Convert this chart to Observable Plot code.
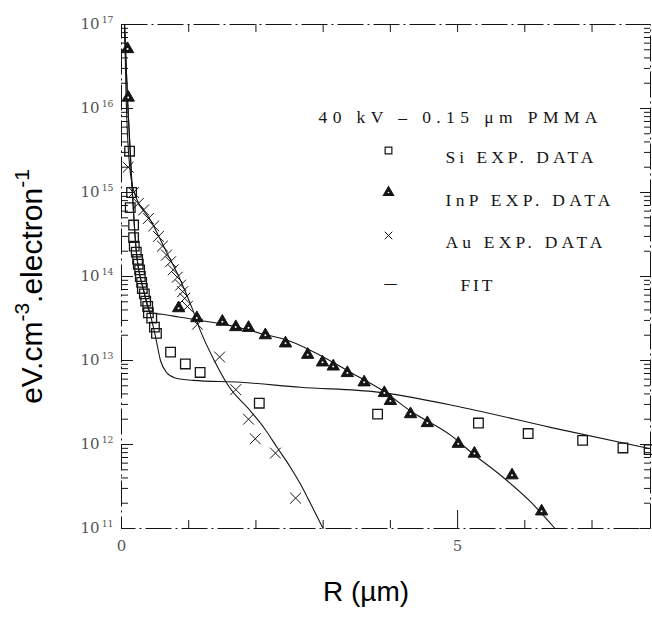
<!DOCTYPE html>
<html><head><meta charset="utf-8">
<script src="https://cdn.jsdelivr.net/npm/d3@7"></script>
<script src="https://cdn.jsdelivr.net/npm/@observablehq/plot@0.6"></script>
<style>body{margin:0;background:#fff}#chart{width:652px;height:618px}</style>
</head><body><div id="chart"></div>
<script>
// ---- Data (R in µm, energy density in eV.cm-3.electron-1) ----
const siExpR = [0.12,0.15,0.13,0.18,0.18,0.19,0.22,0.24,0.25,0.27,0.28,0.30,0.31,0.34,0.36,0.39,0.40,0.45,0.49,0.52,0.73,0.95,1.17,2.05,3.81,5.31,6.05,6.86,7.46,7.85];
const siExpE = [3.1e15,1.0e15,6.6e14,4.1e14,2.9e14,2.3e14,1.95e14,1.6e14,1.4e14,1.2e14,1.0e14,8.5e13,7.2e13,6.2e13,5.1e13,4.4e13,3.7e13,3.2e13,2.5e13,2.1e13,1.26e13,9.1e12,7.2e12,3.1e12,2.3e12,1.8e12,1.35e12,1.12e12,9.1e11,8.7e11];
const inpExpR = [0.09,0.10,0.85,1.12,1.50,1.70,1.89,2.14,2.44,2.77,2.99,3.15,3.36,3.61,3.91,4.00,4.30,4.55,5.01,5.25,5.81,6.25];
const inpExpE = [5.1e16,1.35e16,4.2e13,3.2e13,2.9e13,2.5e13,2.45e13,2.0e13,1.6e13,1.17e13,9.5e12,8.5e12,7.1e12,5.5e12,4.1e12,3.3e12,2.3e12,1.8e12,1.02e12,7.8e11,4.3e11,1.6e11];
const auExpR = [0.10,0.18,0.25,0.33,0.40,0.48,0.55,0.61,0.67,0.73,0.77,0.83,0.88,0.91,0.94,0.98,1.13,1.46,1.70,1.89,1.99,2.29,2.59];
const auExpE = [2.0e15,1.0e15,7.4e14,6.2e14,4.9e14,4.0e14,3.0e14,2.3e14,1.8e14,1.5e14,1.2e14,9.8e13,7.9e13,6.6e13,5.5e13,4.4e13,2.7e13,1.1e13,4.5e12,2.0e12,1.17e12,7.9e11,2.3e11];
const siFitR = [0.045,0.09,0.13,0.16,0.22,0.33,0.43,0.51,0.58,0.67,0.80,1.07,1.77,2.66,3.81,5.04,6.38,7.87];
const siFitE = [1e17,1.26e16,3.0e15,1.05e15,2.0e14,6.8e13,3.5e13,1.86e13,1.0e13,7.2e12,6.2e12,5.8e12,5.5e12,4.8e12,4.2e12,2.8e12,1.6e12,8.9e11];
const inpFitR = [0.045,0.09,0.16,0.22,0.33,0.43,0.60,0.85,1.17,1.62,2.07,2.51,2.96,3.41,3.90,4.30,4.89,5.26,5.64,6.08,6.45];
const inpFitE = [1e17,1.26e16,1.05e15,2.0e14,6.8e13,3.7e13,3.55e13,3.3e13,3.0e13,2.6e13,2.1e13,1.7e13,1.15e13,7.2e12,4.3e12,2.5e12,1.3e12,7.4e11,4.3e11,2.1e11,1e11];
const auFitR = [0.045,0.07,0.12,0.19,0.43,0.65,0.88,1.06,1.17,1.38,1.59,1.92,2.14,2.32,2.51,2.66,2.81,3.00];
const auFitE = [1e17,1.26e16,2.1e15,1.0e15,4.7e14,2.1e14,8.9e13,4.0e13,2.3e13,1.0e13,5.0e12,2.5e12,1.5e12,9.1e11,5.4e11,3.4e11,2.0e11,1e11];

const yMajorTicks = [1e11,1e12,1e13,1e14,1e15,1e16,1e17];
const xTickValues = [0,1,2,3,4,6,7];
const xLongTick = [5];
const xTickLabels = [0,5];
const legendTitle = "40 kV \u2013 0.15 \u03bcm PMMA";
const legendLabels = ["Si EXP. DATA","InP EXP. DATA","Au EXP. DATA","FIT"];
const yTitle = "eV.cm^-3.electron^-1";
const xTitle = "R (\u00b5m)";

// ---- layout ----
const W = 652, H = 618, mL = 121, mR = 2, mT = 24, mB = 90;
const pw = W - mL - mR, ph = H - mT - mB;
const yMinorTicks = [];
for (let e = 11; e < 17; e++) for (let k = 2; k <= 9; k++) yMinorTicks.push(k * Math.pow(10, e));

const rows = (R, E) => R.map((r, i) => ({r, e: E[i]}));
const siExp = rows(siExpR, siExpE), inpExp = rows(inpExpR, inpExpE), auExp = rows(auExpR, auExpE);
const siFit = rows(siFitR, siFitE), inpFit = rows(inpFitR, inpFitE), auFit = rows(auFitR, auFitE);

const ink = "#151515";
const serif = "DejaVu Serif, Liberation Serif, serif";
const sans = "Liberation Sans, Arial, sans-serif";
const lineOpts = {x: "r", y: "e", curve: "monotone-x", stroke: ink, strokeWidth: 1.1};
const legendText = (label, dx, dy) => Plot.text([label], {frameAnchor: "top-left", dx, dy, textAnchor: "start", fontSize: 17.5, fontFamily: "Liberation Serif, serif", fill: ink});

const chart = Plot.plot({
  width: W, height: H,
  marginLeft: mL, marginRight: mR, marginTop: mT, marginBottom: mB,
  style: {background: "#fff", fontFamily: serif, overflow: "visible"},
  x: {domain: [0, 7.87]},
  y: {type: "log", domain: [1e11, 1e17]},
  marks: [
    Plot.frame({stroke: ink, strokeWidth: 1, strokeDasharray: "26,4,2,4"}),
    // inward ticks
    Plot.tickY(yMajorTicks, {y: d => d, insetRight: pw - 12, stroke: ink}),
    Plot.tickY(yMinorTicks, {y: d => d, insetRight: pw - 7, stroke: ink}),
    Plot.tickY(yMajorTicks, {y: d => d, insetLeft: pw - 10, stroke: ink}),
    Plot.tickY(yMinorTicks, {y: d => d, insetLeft: pw - 6, stroke: ink}),
    Plot.tickX(xTickValues, {x: d => d, insetTop: ph - 8, stroke: ink}),
    Plot.tickX(xLongTick, {x: d => d, insetTop: ph - 18, stroke: ink}),
    Plot.tickX(xTickValues.concat(xLongTick), {x: d => d, insetBottom: ph - 8, stroke: ink}),
    Plot.axisY({ticks: yMajorTicks, tickFormat: d => "10^" + Math.round(Math.log10(d)), tickSize: 0, tickPadding: 8, label: null, fontSize: 15, color: "#555"}),
    Plot.axisX({ticks: xTickLabels, tickFormat: d => String(d), tickSize: 0, tickPadding: 12, label: null, fontSize: 15, color: "#555"}),
    // fits
    Plot.line(siFit, lineOpts),
    Plot.line(inpFit, lineOpts),
    Plot.line(auFit, lineOpts),
    // data
    Plot.dot(siExp, {x: "r", y: "e", symbol: "square", r: 5.4, stroke: ink, strokeWidth: 1.3, fill: "none"}),
    Plot.dot(inpExp, {x: "r", y: "e", symbol: "triangle", r: 4.6, stroke: ink, strokeWidth: 1, fill: ink}),
    Plot.dot(inpExp, {x: "r", y: "e", r: 1, fill: "#fff", stroke: "none"}),
    Plot.dot(auExp, {x: "r", y: "e", symbol: "times", r: 5, stroke: ink, strokeWidth: 1}),
    // legend
    legendText(legendTitle, 197, 86),
    Plot.dot([0], {frameAnchor: "top-left", dx: 267, dy: 126, symbol: "square", r: 3.8, stroke: ink, strokeWidth: 1.2, fill: "none"}),
    Plot.dot([0], {frameAnchor: "top-left", dx: 267, dy: 168, symbol: "triangle", r: 3.6, stroke: ink, fill: ink}),
    Plot.dot([0], {frameAnchor: "top-left", dx: 267, dy: 168, r: 0.8, fill: "#fff", stroke: "none"}),
    Plot.dot([0], {frameAnchor: "top-left", dx: 267, dy: 211, symbol: "times", r: 3.5, stroke: ink, strokeWidth: 1}),
    Plot.text(["\u2014"], {frameAnchor: "top-left", dx: 269, dy: 254, textAnchor: "middle", fontSize: 14, fontFamily: "DejaVu Sans", fill: ink}),
    legendText(legendLabels[0], 324, 126),
    legendText(legendLabels[1], 324, 169),
    legendText(legendLabels[2], 324, 211),
    legendText(legendLabels[3], 339, 254),
    // axis titles
    Plot.text([yTitle], {frameAnchor: "left", textAnchor: "middle", rotate: -90, dx: -89, dy: 10, fontSize: 30, fontFamily: sans, fill: "#000"}),
    Plot.text([xTitle], {frameAnchor: "bottom", textAnchor: "middle", dx: -20, dy: 72, fontSize: 28, fontFamily: sans, fill: "#000"})
  ]
});
document.getElementById("chart").appendChild(chart);

// superscripts (10^17, cm^-3 ...)
d3.select(chart).selectAll("text").each(function() {
  const t = this.textContent;
  if (!t.includes("^")) return;
  const fs = parseFloat(getComputedStyle(this).fontSize) || 15;
  const big = fs > 20;
  const parts = t.split(/\^(-?\d+)/);
  const sel = d3.select(this); sel.text(null);
  parts.forEach((p, i) => {
    if (p === "") return;
    const sp = sel.append("tspan").text(p);
    if (i % 2 === 1) sp.attr("font-size", (fs * (big ? 0.7 : 0.62)) + "px").attr("dy", -0.45 * fs).attr("dx", big ? 0 : 2);
    else if (i > 0) sp.attr("dy", 0.45 * fs);
  });
});
// legend letter spacing
const legendWidths = {[legendTitle]: 279, "Si EXP. DATA": 148, "InP EXP. DATA": 165, "Au EXP. DATA": 157, "FIT": 32};
d3.select(chart).selectAll("text").each(function() {
  const w = legendWidths[this.textContent];
  if (w) d3.select(this).attr("textLength", w).attr("lengthAdjust", "spacing");
});
</script></body></html>
